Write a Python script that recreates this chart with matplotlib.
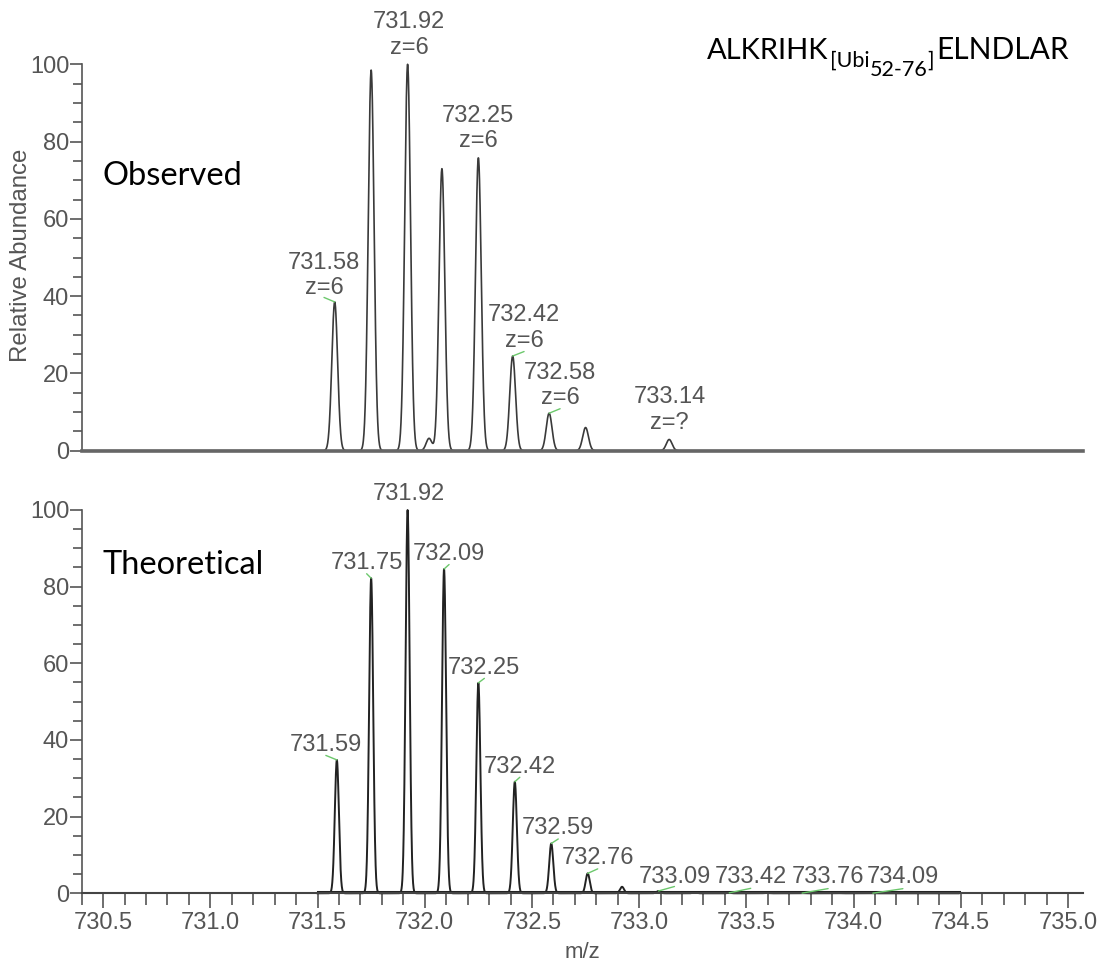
import numpy as np
import matplotlib
matplotlib.use('Agg')
import matplotlib.pyplot as plt
from matplotlib.ticker import MultipleLocator, FormatStrFormatter

W, H = 1099, 966
NARROW = ['Liberation Sans Narrow', 'Liberation Sans', 'DejaVu Sans']
TXT = '#555555'
GREEN = '#6cc86c'

# Observed isotope cluster (peak centroid m/z, relative abundance)
obs_mz = [731.58, 731.75, 731.92, 732.02, 732.08, 732.25, 732.41, 732.58, 732.75, 733.14]
obs_int = [38.5, 98.5, 100.0, 3.2, 73.0, 75.8, 24.5, 9.7, 6.0, 2.9]
obs_labels = ['731.58\nz=6', None, '731.92\nz=6', None, None, '732.25\nz=6',
              '732.42\nz=6', '732.58\nz=6', None, '733.14\nz=?']

# Theoretical isotope distribution
theo_mz = [731.59, 731.75, 731.92, 732.09, 732.25, 732.42, 732.59, 732.76, 732.92,
           733.09, 733.26, 733.42, 733.59, 733.76, 733.93, 734.09, 734.26, 734.43]
theo_int = [34.8, 82.2, 100.0, 84.6, 54.9, 29.1, 13.0, 5.2, 1.7,
            0.6, 0.25, 0.12, 0.08, 0.05, 0.04, 0.03, 0.02, 0.02]
theo_labels = ['731.59', '731.75', '731.92', '732.09', '732.25', '732.42', '732.59',
               '732.76', None, '733.09', None, '733.42', None, '733.76', None,
               '734.09', None, None]

# label placement: offset of label centre from apex (px) and green leader flag
obs_offsets = [(-10.7, 26.4, True), None, (1.5, 29.3, False), None, None, (0, 29.3, False),
               (11.4, 28.1, True), (11, 28, True), None, (0.6, 29.5, False)]
theo_offsets = [(-11, 15, True), (-4.5, 15.5, True), (1.4, 16, False), (5, 15, True),
                (6, 15.2, True), (5, 15, True), (7, 15.5, True), (10, 15, True), None,
                (16, 14.3, True), None, (21.5, 16, True), None, (26, 16, True), None,
                (30, 16, True), None, None]

XMIN, XMAX = 730.4, 735.07


def profile(x, centres, heights, sigma):
    y = np.zeros_like(x)
    for c, h in zip(centres, heights):
        y += h * np.exp(-0.5 * ((x - c) / sigma) ** 2)
    return y


def style_axis(ax, show_x):
    ax.set_xlim(XMIN, XMAX)
    ax.set_ylim(0, 100)
    for s in ['top', 'right']:
        ax.spines[s].set_visible(False)
    ax.spines['left'].set_color('#555555')
    ax.spines['left'].set_linewidth(1.2)
    ax.yaxis.set_major_locator(MultipleLocator(20))
    ax.yaxis.set_minor_locator(MultipleLocator(5))
    ax.tick_params(axis='y', which='major', length=9, width=1.2, color='#555555',
                   pad=0, labelsize=17, labelcolor=TXT)
    ax.tick_params(axis='y', which='minor', length=6.5, width=1.2, color='#555555')
    for lab in ax.get_yticklabels():
        lab.set_family(NARROW)
    if show_x:
        ax.spines['bottom'].set_color('#444444')
        ax.spines['bottom'].set_linewidth(1.5)
        ax.xaxis.set_major_locator(MultipleLocator(0.5))
        ax.xaxis.set_minor_locator(MultipleLocator(0.1))
        ax.xaxis.set_major_formatter(FormatStrFormatter('%.1f'))
        ax.tick_params(axis='x', which='major', length=11, width=1.2, color='#555555',
                       pad=2.5, labelsize=17, labelcolor=TXT)
        ax.tick_params(axis='x', which='minor', length=8.5, width=1.2, color='#555555')
        for lab in ax.get_xticklabels():
            lab.set_family(NARROW)
    else:
        ax.spines['bottom'].set_color('#666666')
        ax.spines['bottom'].set_linewidth(2.6)
        ax.tick_params(axis='x', which='both', bottom=False, labelbottom=False)


def add_labels(ax, mzs, ints, labels, offsets):
    for mz, h, lab, off in zip(mzs, ints, labels, offsets):
        if lab is None:
            continue
        dx, dy, leader = off
        ax.annotate(lab, xy=(mz, h), xytext=(dx * 0.72, dy * 0.72),
                    textcoords='offset points', ha='center', va='center',
                    fontsize=17, color=TXT, family=NARROW, linespacing=1.2,
                    annotation_clip=False)
        if leader:
            # short green leader from apex towards the label
            ax.annotate('', xy=(mz, h), xytext=(dx * 0.72, 4.5 * 0.72),
                        textcoords='offset points', annotation_clip=False,
                        arrowprops=dict(arrowstyle='-', color=GREEN, lw=1.0,
                                        shrinkA=0, shrinkB=0))


fig = plt.figure(figsize=(W / 100, H / 100), dpi=100)
ax1 = fig.add_axes([81.7 / W, 1 - 450.7 / H, 1001.3 / W, 386.4 / H])
ax2 = fig.add_axes([81.7 / W, 1 - 893.3 / H, 1001.3 / W, 383.3 / H])

x_obs = np.linspace(XMIN, XMAX, 5000)
ax1.plot(x_obs, profile(x_obs, obs_mz, obs_int, 0.0135), color='#3a3a3a', lw=1.2,
         clip_on=False)
x_theo = np.linspace(731.5, 734.49, 5000)
ax2.plot(x_theo, profile(x_theo, theo_mz, theo_int, 0.0095), color='#222222', lw=1.4,
         clip_on=False)
ax2.plot([731.5, 734.49], [0.3, 0.3], color='#222222', lw=2.2)

style_axis(ax1, False)
style_axis(ax2, True)

add_labels(ax1, obs_mz, obs_int, obs_labels, obs_offsets)
add_labels(ax2, theo_mz, theo_int, theo_labels, theo_offsets)

ax2.set_xlabel('m/z', fontsize=16, color=TXT, family=NARROW, labelpad=6)
fig.text(20.7 / W, 1 - 255 / H, 'Relative Abundance', rotation=90, ha='center',
         va='center', fontsize=17.3, color=TXT, family=['Liberation Sans', 'DejaVu Sans'])

# panel names
fig.text(102.6 / W, 1 - 185 / H, 'Observed', fontsize=23.5, family='Lato', color='black',
         va='baseline')
fig.text(102.6 / W, 1 - 574 / H, 'Theoretical', fontsize=23.5, family='Lato', color='black',
         va='baseline')

# peptide title with nested subscripts
t1 = fig.text(707 / W, 1 - 59 / H, 'ALKRIHK', fontsize=21, family='Lato', va='baseline')
kw = dict(textcoords='offset points', ha='left', va='bottom', family='Lato',
          annotation_clip=False)
t2 = ax1.annotate('[Ubi', xy=(1, 0), xycoords=t1, xytext=(1, -4.5), fontsize=15.5, **kw)
t3 = ax1.annotate('52-76', xy=(1, 0), xycoords=t2, xytext=(0, -7), fontsize=15.5, **kw)
t4 = ax1.annotate(']', xy=(1, 0), xycoords=t3, xytext=(0, 7), fontsize=15.5, **kw)
t5 = ax1.annotate('ELNDLAR', xy=(1, 0), xycoords=t4, xytext=(2, 4.5), fontsize=21.5, **kw)

fig.savefig('out.png', dpi=100)
